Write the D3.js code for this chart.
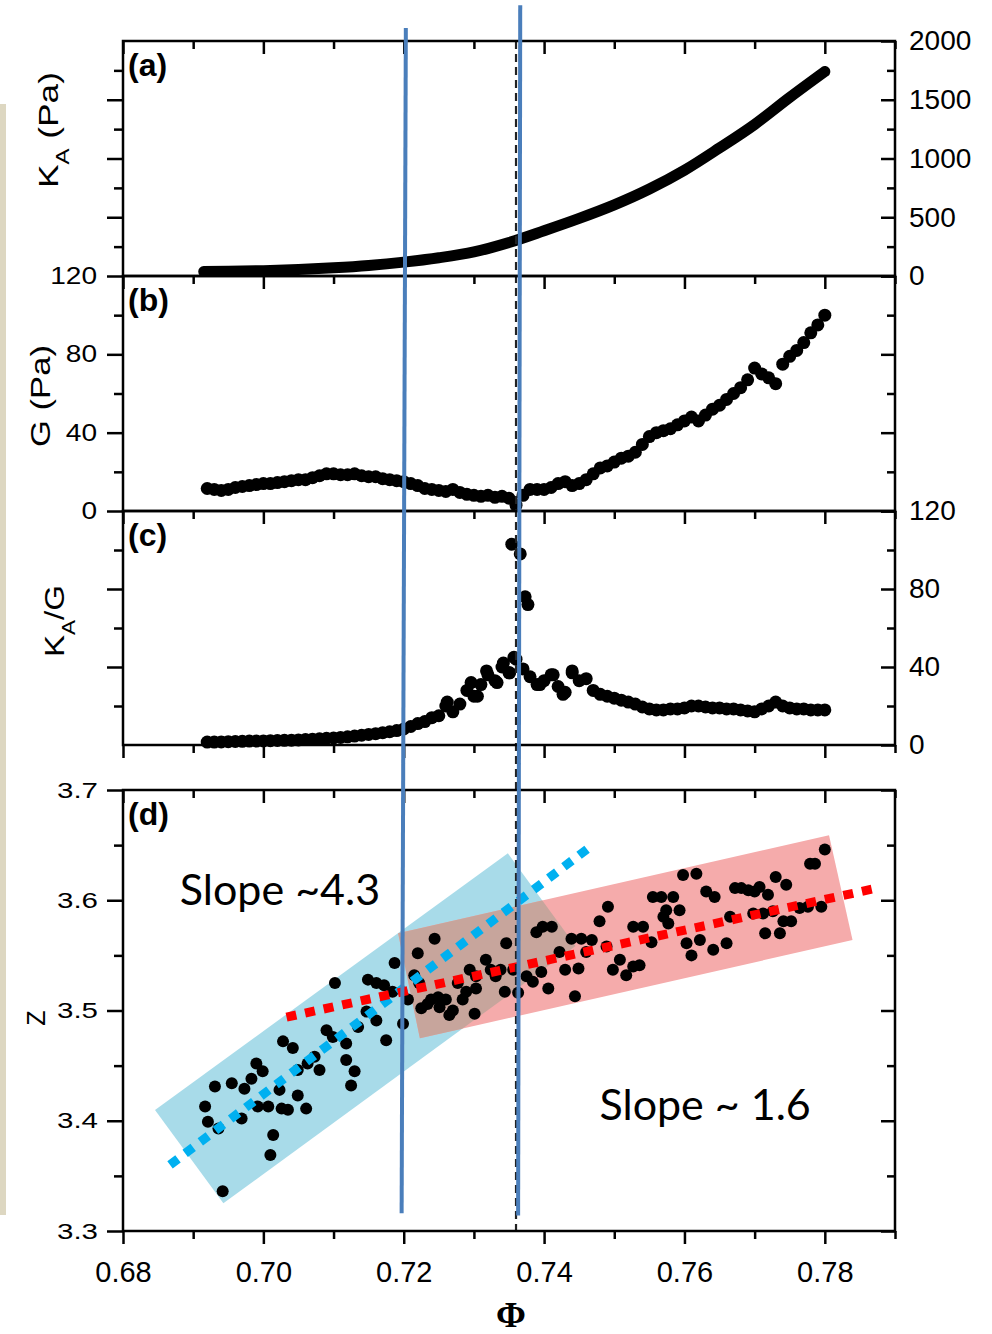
<!DOCTYPE html>
<html>
<head>
<meta charset="utf-8">
<script src="https://cdn.jsdelivr.net/npm/d3@7"></script>
<style>
body { margin: 0; background: #fff; }
svg { display: block; }
</style>
</head>
<body>
<div id="chart"></div>
<script>
// ---- data ----
// (a) K_A vs phi
var phiA = [0.6915, 0.695, 0.700, 0.705, 0.710, 0.715, 0.720, 0.725, 0.730, 0.735, 0.740, 0.745, 0.750, 0.755, 0.760, 0.765, 0.770, 0.775, 0.780];
var kaVals = [38, 40, 45, 55, 70, 90, 118, 155, 205, 285, 385, 490, 605, 740, 900, 1090, 1290, 1520, 1740];

// (b), (c) sampled phi values
var phiGrid = [0.692, 0.693, 0.694, 0.695, 0.696, 0.697, 0.698, 0.699, 0.700, 0.701,
  0.702, 0.703, 0.704, 0.705, 0.706, 0.707, 0.708, 0.709, 0.710, 0.711,
  0.712, 0.713, 0.714, 0.715, 0.716, 0.717, 0.718, 0.719, 0.720, 0.721,
  0.722, 0.723, 0.724, 0.725, 0.726, 0.727, 0.728, 0.729, 0.730, 0.731,
  0.732, 0.733, 0.734, 0.735, 0.736, 0.737, 0.738, 0.739, 0.740, 0.741,
  0.742, 0.743, 0.744, 0.745, 0.746, 0.747, 0.748, 0.749, 0.750, 0.751,
  0.752, 0.753, 0.754, 0.755, 0.756, 0.757, 0.758, 0.759, 0.760, 0.761,
  0.762, 0.763, 0.764, 0.765, 0.766, 0.767, 0.768, 0.769, 0.770, 0.771,
  0.772, 0.773, 0.774, 0.775, 0.776, 0.777, 0.778, 0.779, 0.780];
var gVals = [11.5, 11, 10.5, 11, 12, 12.5, 13, 13.5, 14, 14,
  14.5, 15, 15.5, 16, 16, 17, 18, 19, 19, 18.5,
  18.5, 19, 18, 17.5, 17.5, 16.5, 16, 15.5, 15, 14,
  13, 11.5, 11, 10.5, 10, 11, 9.5, 8.5, 8, 7.5,
  8, 7, 7.5, 6.5, 3, 8, 11, 11, 11, 12,
  14, 15, 13, 14, 16, 19, 22, 23, 25, 27,
  28, 30, 34, 38, 40, 41, 42, 44, 46, 48,
  46, 49, 52, 54, 57, 60, 63, 67, 73, 70,
  68, 65, 75, 79, 82, 86, 91, 95, 100];
var kgVals = [1.5, 1.5, 1.6, 1.7, 1.8, 1.9, 2, 2, 2.1, 2.2,
  2.3, 2.4, 2.5, 2.6, 2.8, 3, 3.2, 3.4, 3.6, 3.9,
  4.2, 4.6, 5, 5.4, 5.8, 6.3, 6.8, 7.4, 8.2, 9.5,
  11, 12, 14, 15, 20, 17, 21, 28, 25, 31,
  36, 33, 40, 37, 44, 39, 35, 31, 33, 36,
  30, 27, 37, 33, 34, 28, 26, 25, 24, 23,
  22, 21, 19.5, 18.5, 18, 18, 18.5, 18.5, 19, 20,
  20, 19.5, 19, 19, 18.5, 18.5, 18, 17.5, 17, 18.5,
  20, 22, 20, 19, 18.5, 18.5, 18, 18, 18];
// (c) extra scattered points, including the spike near the transition
var phiCx = [0.7262, 0.7296, 0.7305, 0.7318, 0.7333, 0.7342, 0.7351, 0.7357, 0.7394, 0.7413, 0.7427, 0.7440, 0.7354, 0.7366, 0.7373, 0.7377];
var kgCx = [22, 32, 25, 38, 32, 42, 37, 45, 31, 36, 26, 38, 103, 98, 76, 72];

// (d) Z vs phi
var phiD = [0.6942, 0.7010, 0.7014, 0.6931, 0.6917, 0.6921, 0.6936, 0.6955, 0.6969, 0.6973,
  0.6983, 0.6990, 0.6999, 0.6992, 0.7007, 0.7023, 0.7026, 0.7035, 0.7049, 0.7061,
  0.7028, 0.7042, 0.7049, 0.7063, 0.7073, 0.7080, 0.7090, 0.7099, 0.7102, 0.7118,
  0.7118, 0.7130, 0.7125, 0.7135, 0.7147, 0.7161, 0.7149, 0.7161, 0.7172, 0.7175,
  0.7184, 0.7187, 0.7199, 0.7206, 0.7220, 0.7215, 0.7225, 0.7244, 0.7239, 0.7251,
  0.7260, 0.7265, 0.7277, 0.7284, 0.7289, 0.7301, 0.7303, 0.7317, 0.7324, 0.7338,
  0.7222, 0.7234, 0.7249, 0.7270, 0.7303, 0.7294, 0.7331,
  0.7346, 0.7344, 0.7356, 0.7363, 0.7375, 0.7384, 0.7389, 0.7396, 0.7406, 0.7411,
  0.7398, 0.7422, 0.7430, 0.7439, 0.7444, 0.7449, 0.7453, 0.7460, 0.7468, 0.7479,
  0.7491, 0.7489, 0.7498, 0.7508, 0.7517, 0.7527, 0.7536, 0.7527, 0.7541, 0.7553,
  0.7555, 0.7567, 0.7574, 0.7577, 0.7570, 0.7584, 0.7593, 0.7598, 0.7617, 0.7610,
  0.7603, 0.7622, 0.7631, 0.7643, 0.7641, 0.7660, 0.7665, 0.7672, 0.7681, 0.7691,
  0.7700, 0.7707, 0.7719, 0.7698, 0.7712, 0.7726, 0.7715, 0.7736, 0.7730, 0.7741,
  0.7745, 0.7752, 0.7764, 0.7776, 0.7779, 0.7786, 0.7795, 0.7800];
var zD = [3.336, 3.369, 3.387, 3.431, 3.413, 3.399, 3.393, 3.434, 3.402, 3.429,
  3.438, 3.452, 3.445, 3.413, 3.413, 3.428, 3.411, 3.410, 3.423, 3.411,
  3.472, 3.466, 3.446, 3.452, 3.458, 3.446, 3.482, 3.476, 3.525, 3.470,
  3.455, 3.445, 3.432, 3.485, 3.499, 3.491, 3.528, 3.525, 3.523, 3.473,
  3.517, 3.543, 3.488, 3.510, 3.552, 3.532, 3.502, 3.565, 3.510, 3.503,
  3.510, 3.496, 3.525, 3.510, 3.517, 3.497, 3.531, 3.546, 3.537, 3.537,
  3.525, 3.506, 3.512, 3.500, 3.520, 3.537, 3.531,
  3.561, 3.517, 3.537, 3.516, 3.531, 3.526, 3.571, 3.535, 3.520, 3.576,
  3.576, 3.553, 3.537, 3.565, 3.513, 3.538, 3.565, 3.553, 3.564, 3.581,
  3.594, 3.558, 3.537, 3.546, 3.532, 3.540, 3.541, 3.576, 3.576, 3.562,
  3.603, 3.603, 3.591, 3.579, 3.585, 3.603, 3.591, 3.623, 3.624, 3.550,
  3.561, 3.564, 3.608, 3.603, 3.555, 3.561, 3.585, 3.611, 3.611, 3.609,
  3.608, 3.612, 3.605, 3.588, 3.588, 3.590, 3.570, 3.570, 3.621, 3.581,
  3.614, 3.581, 3.593, 3.594, 3.633, 3.633, 3.594, 3.646];

// shaded bands and fit lines in (d)
var blueBandPhi = [0.68456, 0.69430, 0.74448, 0.73484];
var blueBandZ = [3.4098, 3.3251, 3.5585, 3.6426];
var redBandPhi = [0.71920, 0.72230, 0.78395, 0.78060];
var redBandZ = [3.5700, 3.4748, 3.5639, 3.6590];
var blueFitPhi = [0.6867, 0.7471];
var blueFitZ = [3.360, 3.651];
var redFitPhi = [0.7033, 0.7874];
var redFitZ = [3.494, 3.611];

// vertical markers
var markerPhiTop = [0.7203, 0.7366];
var markerPhiBottom = [0.7197, 0.7363];
var markerTopKA = [2110, 2305];
var markerBottomZ = [3.316, 3.314];
var transitionPhi = 0.7360;

// ticks
var xMajor = [0.68, 0.70, 0.72, 0.74, 0.76, 0.78];
var xMinor = [0.69, 0.71, 0.73, 0.75, 0.77, 0.79];
var kaMajor = [0, 500, 1000, 1500, 2000];
var kaMinor = [250, 750, 1250, 1750];
var gMajor = [0, 40, 80, 120];
var gMinor = [20, 60, 100];
var zMajor = [3.3, 3.4, 3.5, 3.6, 3.7];
var zMinor = [3.35, 3.45, 3.55, 3.65];

// ---- drawing ----
var width = 992, height = 1334;
var font = "'Liberation Sans', Arial, sans-serif";

var svg = d3.select("#chart").append("svg")
    .attr("width", width)
    .attr("height", height);

var x = d3.scaleLinear().domain([0.68, 0.79]).range([123, 895]);
var yA = d3.scaleLinear().domain([0, 2000]).range([276, 41]);
var yB = d3.scaleLinear().domain([0, 120]).range([511, 276]);
var yC = d3.scaleLinear().domain([0, 120]).range([745, 511]);
var yD = d3.scaleLinear().domain([3.3, 3.7]).range([1231, 790]);

// beige strip at the left edge
svg.append("rect")
    .attr("x", 0).attr("y", 104)
    .attr("width", 6).attr("height", 1111)
    .attr("fill", "#ddd7c1");

// bands in (d)
var bandPath = d3.line()
    .x(function(d) { return x(d[0]); })
    .y(function(d) { return yD(d[1]); })
    .curve(d3.curveLinearClosed);

var blueBand = d3.zip(blueBandPhi, blueBandZ);
var redBand = d3.zip(redBandPhi, redBandZ);

svg.append("clipPath").attr("id", "blue-clip")
  .append("path")
    .datum(blueBand)
    .attr("d", bandPath);

svg.append("path")
    .datum(blueBand)
    .attr("d", bandPath)
    .attr("fill", "#a8dbe9");

svg.append("path")
    .datum(redBand)
    .attr("d", bandPath)
    .attr("fill", "#f5abab");

// where the two bands overlap
svg.append("path")
    .datum(redBand)
    .attr("d", bandPath)
    .attr("clip-path", "url(#blue-clip)")
    .attr("fill", "#c7a59c");

// (a) thick curve
var lineA = d3.line()
    .x(function(d) { return x(d[0]); })
    .y(function(d) { return yA(d[1]); })
    .curve(d3.curveMonotoneX);

svg.append("path")
    .datum(d3.zip(phiA, kaVals))
    .attr("d", lineA)
    .attr("fill", "none")
    .attr("stroke", "#000")
    .attr("stroke-width", 11)
    .attr("stroke-linecap", "round");

function dots(data, yScale, r) {
  svg.append("g").selectAll("circle")
      .data(data)
    .enter().append("circle")
      .attr("cx", function(d) { return x(d[0]); })
      .attr("cy", function(d) { return yScale(d[1]); })
      .attr("r", r)
      .attr("fill", "#000");
}

dots(d3.zip(phiGrid, gVals), yB, 6.5);
dots(d3.zip(phiGrid, kgVals).concat(d3.zip(phiCx, kgCx)), yC, 6.5);
dots(d3.zip(phiD, zD), yD, 6);

// dotted fit lines
var lineD = d3.line()
    .x(function(d) { return x(d[0]); })
    .y(function(d) { return yD(d[1]); });

svg.append("path")
    .datum(d3.zip(blueFitPhi, blueFitZ))
    .attr("d", lineD)
    .attr("stroke", "#00b0f0")
    .attr("stroke-width", 9)
    .attr("stroke-dasharray", "10,9")
    .attr("fill", "none");

svg.append("path")
    .datum(d3.zip(redFitPhi, redFitZ))
    .attr("d", lineD)
    .attr("stroke", "#ff0000")
    .attr("stroke-width", 9)
    .attr("stroke-dasharray", "10,9")
    .attr("fill", "none");

// dashed transition line
svg.append("line")
    .attr("x1", x(transitionPhi)).attr("x2", x(transitionPhi))
    .attr("y1", yA(2000)).attr("y2", yD(3.3))
    .attr("stroke", "#222")
    .attr("stroke-width", 2.2)
    .attr("stroke-dasharray", "8,5");

// ---- axes ----
function widen(sel, k) {
  sel.each(function() {
    var w = this.getComputedTextLength();
    d3.select(this).attr("textLength", w * k).attr("lengthAdjust", "spacingAndGlyphs");
  });
}

function tidy(a, size) {
  a.select(".domain").remove();
  a.selectAll("line").attr("stroke", "#000").attr("stroke-width", 2.5);
  a.selectAll("text").attr("fill", "#000").style("font-family", font).style("font-size", size + "px");
  a.attr("font-family", null).attr("font-size", null);
}

function xAxisAt(yPos, labels) {
  var a = svg.append("g").attr("transform", "translate(0," + yPos + ")")
      .call(d3.axisBottom(x).tickValues(xMajor).tickSize(13).tickPadding(17)
        .tickFormat(labels ? d3.format(".2f") : ""));
  tidy(a, 29);
  var m = svg.append("g").attr("transform", "translate(0," + yPos + ")")
      .call(d3.axisBottom(x).tickValues(xMinor).tickSize(8).tickFormat(""));
  tidy(m, 29);
}

function yAxisLeft(scale, major, minor, labels, fmt, size, pad, k) {
  var a = svg.append("g").attr("transform", "translate(" + x(0.68) + ",0)")
      .call(d3.axisLeft(scale).tickValues(major).tickSize(16).tickPadding(pad)
        .tickFormat(labels ? fmt : ""));
  tidy(a, size);
  if (labels) widen(a.selectAll("text"), k);
  var m = svg.append("g").attr("transform", "translate(" + x(0.68) + ",0)")
      .call(d3.axisLeft(scale).tickValues(minor).tickSize(9).tickFormat(""));
  tidy(m, size);
}

function yAxisRight(scale, major, minor, labels, fmt) {
  var a = svg.append("g").attr("transform", "translate(" + x(0.79) + ",0)")
      .call(d3.axisRight(scale).tickValues(major).tickSize(-14).tickPadding(14)
        .tickFormat(labels ? fmt : ""));
  tidy(a, 28);
  var m = svg.append("g").attr("transform", "translate(" + x(0.79) + ",0)")
      .call(d3.axisRight(scale).tickValues(minor).tickSize(-8).tickFormat(""));
  tidy(m, 28);
}

// panel frames
[[yA, 2000, 0], [yB, 120, 0], [yC, 120, 0], [yD, 3.7, 3.3]].forEach(function(p) {
  svg.append("rect")
      .attr("x", x(0.68))
      .attr("y", p[0](p[1]))
      .attr("width", x(0.79) - x(0.68))
      .attr("height", p[0](p[2]) - p[0](p[1]))
      .attr("fill", "none")
      .attr("stroke", "#000")
      .attr("stroke-width", 2.5);
});

xAxisAt(yA(2000), false);
xAxisAt(yB(120), false);
xAxisAt(yC(120), false);
xAxisAt(yC(0), false);
xAxisAt(yD(3.7), false);
xAxisAt(yD(3.3), true);

yAxisLeft(yA, [500, 1000, 1500], kaMinor, false, null, 23, 10, 1);
yAxisRight(yA, kaMajor, kaMinor, true, d3.format("d"));
yAxisLeft(yB, gMajor, gMinor, true, d3.format("d"), 23, 10, 1.22);
yAxisRight(yB, gMajor, gMinor, false, null);
yAxisLeft(yC, [40, 80], gMinor, false, null, 23, 10, 1);
yAxisRight(yC, gMajor, gMinor, true, d3.format("d"));
yAxisLeft(yD, zMajor, zMinor, true, d3.format(".1f"), 22, 9, 1.34);
yAxisRight(yD, zMajor, zMinor, false, null);

// blue vertical marker lines
svg.append("g").selectAll("line")
    .data(d3.range(markerPhiTop.length))
  .enter().append("line")
    .attr("x1", function(i) { return x(markerPhiTop[i]); })
    .attr("y1", function(i) { return yA(markerTopKA[i]); })
    .attr("x2", function(i) { return x(markerPhiBottom[i]); })
    .attr("y2", function(i) { return yD(markerBottomZ[i]); })
    .attr("stroke", "#4a7ebb")
    .attr("stroke-width", 4);

// panel letters
[["(a)", yA, 2000], ["(b)", yB, 120], ["(c)", yC, 120], ["(d)", yD, 3.7]].forEach(function(p) {
  svg.append("text")
      .attr("x", x(0.68) + 5)
      .attr("y", p[1](p[2]) + 35)
      .style("font-family", font)
      .style("font-size", "32px")
      .style("font-weight", "bold")
      .text(p[0]);
});

// axis titles
function yTitle(cx, cy, len, parts, size) {
  var t = svg.append("text")
      .attr("transform", "translate(" + cx + "," + cy + ") rotate(-90)")
      .attr("text-anchor", "middle")
      .style("font-family", font)
      .style("font-size", size + "px");
  parts.forEach(function(p) {
    var s = t.append("tspan").text(p[0]);
    if (p[1]) s.attr("baseline-shift", "sub").style("font-size", (size * 0.68) + "px");
  });
  if (len) t.attr("textLength", len).attr("lengthAdjust", "spacingAndGlyphs");
}

yTitle(58, 130, 116, [["K"], ["A", true], [" (Pa)"]], 28);
yTitle(50, 396, 102, [["G (Pa)"]], 28);
yTitle(64, 621, 72, [["K"], ["A", true], ["/G"]], 28);
yTitle(45, 1018, null, [["Z"]], 25);

svg.append("text")
    .attr("x", 511).attr("y", 1327)
    .attr("text-anchor", "middle")
    .style("font-family", "'Liberation Serif', 'DejaVu Serif', serif")
    .style("font-size", "36px")
    .style("font-weight", "bold")
    .text("\u03A6");

// slope annotations
svg.append("text")
    .attr("x", x(0.6881)).attr("y", yD(3.5957))
    .style("font-family", "Lato, 'Open Sans', sans-serif")
    .style("font-size", "43px")
    .text("Slope ~4.3");

svg.append("text")
    .attr("x", x(0.7479)).attr("y", yD(3.4007))
    .style("font-family", "Lato, 'Open Sans', sans-serif")
    .style("font-size", "43px")
    .text("Slope ~ 1.6");
</script>
</body>
</html>
